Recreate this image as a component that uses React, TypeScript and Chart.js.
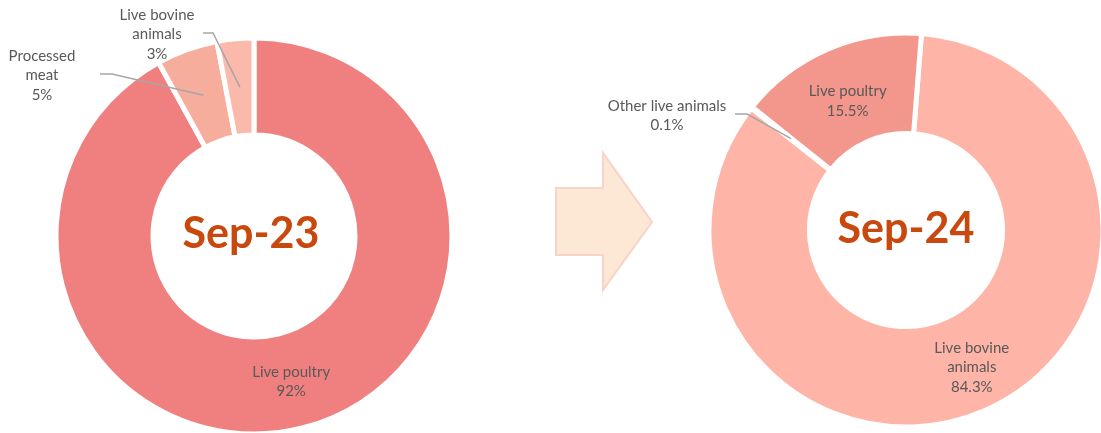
import React, { useEffect, useRef } from "react";
import { Chart, registerables } from "chart.js";

Chart.register(...registerables);

// ---------- data ----------
const leftTitle = "Sep-23";
const leftCategories = ["Live poultry", "Processed\nmeat", "Live bovine\nanimals"];
const leftValues = [92, 5, 3];
const leftColors = ["#F08080", "#F7AD9C", "#FBB9AC"];

const rightTitle = "Sep-24";
const rightCategories = ["Live bovine\nanimals", "Other live animals", "Live poultry"];
const rightValues = [84.3, 0.1, 15.5];
const rightColors = ["#FFB4A8", "#FFB4A8", "#F3968C"];

// ---------- label layout (positions only) ----------
type Lay =
  | { type: "inside"; dx?: number; dy?: number }
  | { type: "outside"; x: number; y: number; start: [number, number]; elbow: [number, number] };

const leftLayout: Lay[] = [
  { type: "inside", dx: 0, dy: 1 },
  { type: "outside", x: 42, y: 56, start: [100, 74], elbow: [112, 74] },
  { type: "outside", x: 157, y: 15, start: [203, 33], elbow: [213, 33] },
];
const rightLayout: Lay[] = [
  { type: "inside", dx: 7, dy: 3 },
  { type: "outside", x: 667, y: 106, start: [735, 114], elbow: [747, 114] },
  { type: "inside", dx: 0, dy: 6 },
];

const LINE_H = 19.5;

const donutLabels = {
  id: "donutLabels",
  afterDatasetsDraw(chart: any, _args: any, opts: any) {
    const ctx: CanvasRenderingContext2D = chart.ctx;
    const meta = chart.getDatasetMeta(0);
    const ds = chart.data.datasets[0];
    const labels = chart.data.labels as string[];
    const arc0: any = meta.data[0];
    const cx = arc0.x;
    const cy = arc0.y;
    ctx.save();
    // center title
    ctx.font = "bold 43px Lato";
    ctx.fillStyle = "#C8480E";
    ctx.textAlign = "center";
    ctx.textBaseline = "alphabetic";
    ctx.fillText(opts.title, cx + (opts.titleDx || 0), cy + (opts.titleDy || 0));

    // slice labels
    ctx.font = "15px Lato";
    ctx.textBaseline = "middle";
    (opts.layout as Lay[]).forEach((lay, i) => {
      const el: any = meta.data[i];
      const p = el.tooltipPosition(false);
      const lines = [...String(labels[i]).split("\n"), `${ds.data[i]}%`];
      let tx: number;
      let ty: number;
      if (lay.type === "inside") {
        tx = p.x + (lay.dx || 0);
        ty = p.y + (lay.dy || 0) - ((lines.length - 1) * LINE_H) / 2;
      } else {
        tx = lay.x;
        ty = lay.y;
        ctx.strokeStyle = "#A6A6A6";
        ctx.lineWidth = 1.5;
        ctx.beginPath();
        ctx.moveTo(lay.start[0], lay.start[1]);
        ctx.lineTo(lay.elbow[0], lay.elbow[1]);
        ctx.lineTo(p.x, p.y);
        ctx.stroke();
      }
      ctx.fillStyle = "#595959";
      lines.forEach((l, k) => ctx.fillText(l, tx, ty + k * LINE_H));
    });
    ctx.restore();
  },
};

function makeDonut(
  canvas: HTMLCanvasElement,
  title: string,
  cats: string[],
  values: number[],
  colors: string[],
  layout: Lay[],
  padding: { left: number; right: number; top: number; bottom: number },
  radius: number,
  cutout: string,
  rotation: number,
  titleDx: number,
  titleDy: number
) {
  return new Chart(canvas, {
    type: "doughnut",
    data: {
      labels: cats,
      datasets: [
        {
          data: values,
          backgroundColor: colors,
          borderColor: "#ffffff",
          borderWidth: 5,
          hoverOffset: 0,
          clip: false as any,
        } as any,
      ],
    },
    options: {
      responsive: false,
      animation: false,
      events: [],
      radius,
      cutout,
      rotation,
      layout: { padding },
      plugins: {
        legend: { display: false },
        tooltip: { enabled: false },
        donutLabels: { title, layout, titleDx, titleDy },
      } as any,
    } as any,
    plugins: [donutLabels as any],
  });
}

export default function App() {
  const leftRef = useRef<HTMLCanvasElement>(null);
  const rightRef = useRef<HTMLCanvasElement>(null);

  useEffect(() => {
    const a = makeDonut(
      leftRef.current!,
      leftTitle,
      leftCategories,
      leftValues,
      leftColors,
      leftLayout,
      { left: 54, right: 647, top: 39, bottom: 0 },
      198,
      "51%",
      0,
      -3,
      12
    );
    const b = makeDonut(
      rightRef.current!,
      rightTitle,
      rightCategories,
      rightValues,
      rightColors,
      rightLayout,
      { left: 806, right: 95, top: 30, bottom: 3 },
      197,
      "49%",
      4.5,
      0,
      13
    );
    return () => {
      a.destroy();
      b.destroy();
    };
  }, []);

  return (
    <div
      style={{
        position: "fixed",
        left: 0,
        top: 0,
        width: 1101,
        height: 433,
        background: "#ffffff",
        overflow: "hidden",
      }}
    >
      <svg
        width={1101}
        height={433}
        style={{ position: "absolute", left: 0, top: 0 }}
      >
        <polygon
          points="556,188 603,188 603,153 652,222 603,290 603,255 556,255"
          fill="#FCE8D4"
          stroke="#F9D2C8"
          strokeWidth={2}
        />
      </svg>
      <canvas
        ref={leftRef}
        width={1101}
        height={433}
        style={{ position: "absolute", left: 0, top: 0 }}
      />
      <canvas
        ref={rightRef}
        width={1101}
        height={433}
        style={{ position: "absolute", left: 0, top: 0 }}
      />
    </div>
  );
}
